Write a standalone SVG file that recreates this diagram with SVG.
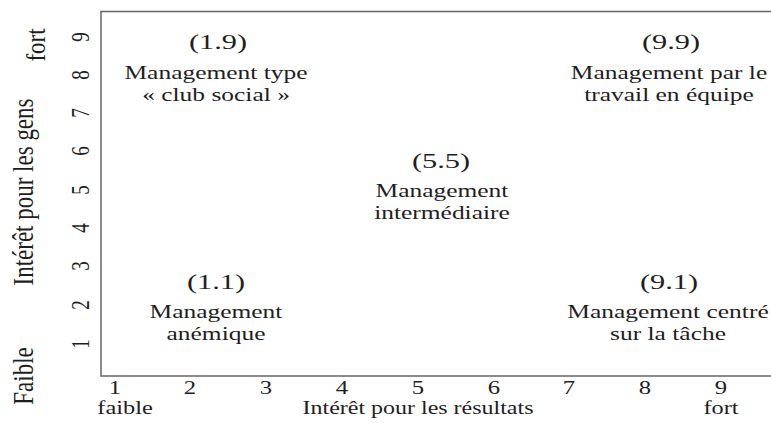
<svg xmlns="http://www.w3.org/2000/svg" width="771" height="423" viewBox="0 0 771 423">
<style>
text{font-family:"Liberation Serif","Times New Roman",serif;fill:#1e1e1e;text-anchor:middle}
.c{font-size:22px}
.b{font-size:19px}
.n{font-size:19px}
.ax{font-size:19.5px}
.vl{font-size:23px}
.vn{font-size:19px}
.frame{fill:none;stroke:#666;stroke-width:1.5}
</style>
<rect width="771" height="423" fill="#fff"/>
<g id="frame"><path class="frame" d="M771,11.5 H101 V376 H771"/></g>
<g id="x-axis">
<text class="n" transform="translate(115,394) scale(1.3,1)">1</text>
<text class="n" transform="translate(190,394) scale(1.3,1)">2</text>
<text class="n" transform="translate(266,394) scale(1.3,1)">3</text>
<text class="n" transform="translate(342,394) scale(1.3,1)">4</text>
<text class="n" transform="translate(418,394) scale(1.3,1)">5</text>
<text class="n" transform="translate(494,394) scale(1.3,1)">6</text>
<text class="n" transform="translate(569,394) scale(1.3,1)">7</text>
<text class="n" transform="translate(645,394) scale(1.3,1)">8</text>
<text class="n" transform="translate(721,394) scale(1.3,1)">9</text>
<text class="ax" transform="translate(125,414) scale(1.25,1)">faible</text>
<text class="ax" transform="translate(418,414) scale(1.23,1)">Intérêt pour les résultats</text>
<text class="ax" transform="translate(721,414) scale(1.25,1)">fort</text>
</g>
<g id="y-axis">
<text class="vn" transform="translate(89,37) rotate(-90) scale(1,1.3)">9</text>
<text class="vn" transform="translate(89,75) rotate(-90) scale(1,1.3)">8</text>
<text class="vn" transform="translate(89,113) rotate(-90) scale(1,1.3)">7</text>
<text class="vn" transform="translate(89,151) rotate(-90) scale(1,1.3)">6</text>
<text class="vn" transform="translate(89,190) rotate(-90) scale(1,1.3)">5</text>
<text class="vn" transform="translate(89,228) rotate(-90) scale(1,1.3)">4</text>
<text class="vn" transform="translate(89,266) rotate(-90) scale(1,1.3)">3</text>
<text class="vn" transform="translate(89,305) rotate(-90) scale(1,1.3)">2</text>
<text class="vn" transform="translate(89,344) rotate(-90) scale(1,1.3)">1</text>
<text class="vl" transform="translate(45,45) rotate(-90) scale(1,1.15)">fort</text>
<text class="vl" transform="translate(33,192) rotate(-90) scale(1,1.3)">Intérêt pour les gens</text>
<text class="vl" transform="translate(33,376) rotate(-90) scale(1,1.3)">Faible</text>
</g>
<g id="node-1-9">
<text class="c" transform="translate(218,49) scale(1.38,1)">(1.9)</text>
<text class="b" transform="translate(216,79) scale(1.34,1)">Management type</text>
<text class="b" transform="translate(216,101) scale(1.34,1)">« club social »</text>
</g>
<g id="node-9-9">
<text class="c" transform="translate(671,49) scale(1.38,1)">(9.9)</text>
<text class="b" transform="translate(669,79) scale(1.34,1)">Management par le</text>
<text class="b" transform="translate(669,101) scale(1.34,1)">travail en équipe</text>
</g>
<g id="node-5-5">
<text class="c" transform="translate(441,168) scale(1.38,1)">(5.5)</text>
<text class="b" transform="translate(442,197) scale(1.34,1)">Management</text>
<text class="b" transform="translate(442,219) scale(1.34,1)">intermédiaire</text>
</g>
<g id="node-1-1">
<text class="c" transform="translate(216,289) scale(1.38,1)">(1.1)</text>
<text class="b" transform="translate(216,318) scale(1.34,1)">Management</text>
<text class="b" transform="translate(216,340) scale(1.34,1)">anémique</text>
</g>
<g id="node-9-1">
<text class="c" transform="translate(669,289) scale(1.38,1)">(9.1)</text>
<text class="b" transform="translate(668,318) scale(1.34,1)">Management centré</text>
<text class="b" transform="translate(668,340) scale(1.34,1)">sur la tâche</text>
</g>
</svg>
